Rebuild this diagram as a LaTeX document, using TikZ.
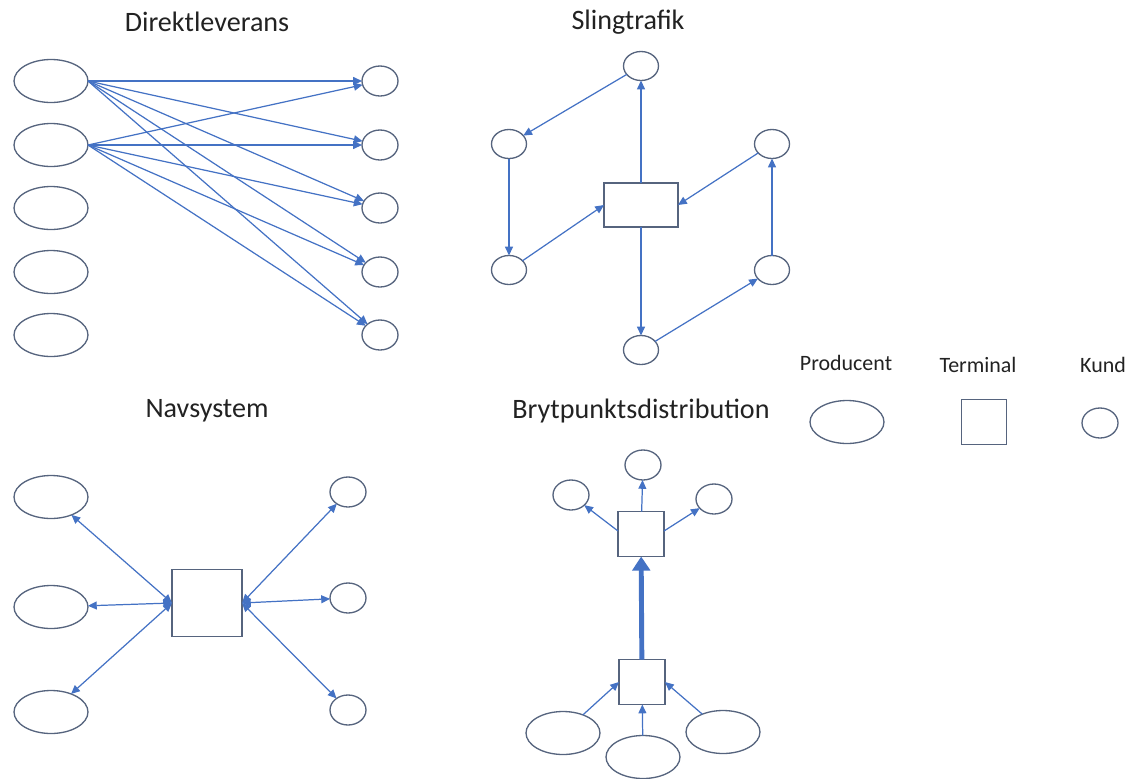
\documentclass[tikz,border=0pt]{standalone}
\usepackage{fontspec}
\setmainfont{Carlito}
\usetikzlibrary{shapes.geometric,arrows.meta}
\definecolor{nodeline}{HTML}{56647E}
\definecolor{arrowblue}{HTML}{4472C4}
\definecolor{textgray}{HTML}{222222}
\begin{document}
\begin{tikzpicture}[x=0.02cm, y=-0.02cm,
    every node/.style={inner sep=0pt, outer sep=0pt, text=textgray},
    prod/.style={ellipse, draw=nodeline, line width=0.75pt, minimum width=1.48cm, minimum height=0.86cm},
    kund/.style={ellipse, draw=nodeline, line width=0.75pt, minimum width=0.72cm, minimum height=0.6cm},
    term/.style={rectangle, draw=nodeline, line width=0.75pt},
    title/.style={font=\fontsize{16}{18}\selectfont},
    legend/.style={font=\fontsize{12.5}{14}\selectfont},
    flow/.style={draw=arrowblue, line width=0.7pt, -{Triangle[length=5pt,width=4.5pt]}},
    twoway/.style={draw=arrowblue, line width=0.7pt, {Triangle[length=5pt,width=4.5pt]}-{Triangle[length=5pt,width=4.5pt]}}]
    \useasboundingbox (0,0) rectangle (1133,778);

    % Titles
    \node[title] (tDirekt) at (207,22) {Direktleverans};
    \node[title] (tSling) at (628,22) {Slingtrafik};
    \node[title] (tNav) at (207,411) {Navsystem};
    \node[title] (tBryt) at (641,411) {Brytpunktsdistribution};

    % Direktleverans
    \foreach \i/\y in {1/81,2/145,3/208,4/272,5/335} {
        \node[prod] (DP\i) at (51,\y) {};
        \node[kund] (DK\i) at (380,\y) {};
    }
    \foreach \p in {1,2}
        \foreach \k in {1,...,5}
            \draw[flow] (DP\p.east) -- (DK\k);

    % Slingtrafik
    \node[term, minimum width=1.48cm, minimum height=0.88cm] (ST) at (641,205) {};
    \node[kund, minimum width=0.7cm, minimum height=0.58cm] (S1) at (641,66) {};
    \node[kund, minimum width=0.7cm, minimum height=0.58cm] (S2) at (509,144) {};
    \node[kund, minimum width=0.7cm, minimum height=0.58cm] (S3) at (509,270) {};
    \node[kund, minimum width=0.7cm, minimum height=0.58cm] (S4) at (641,350) {};
    \node[kund, minimum width=0.7cm, minimum height=0.58cm] (S5) at (772,270) {};
    \node[kund, minimum width=0.7cm, minimum height=0.58cm] (S6) at (772,144) {};
    \draw[flow] (ST) -- (S1);
    \draw[flow] (S1) -- (S2);
    \draw[flow] (S2) -- (S3);
    \draw[flow] (S3) -- (ST.west);
    \draw[flow] (ST) -- (S4);
    \draw[flow] (S4) -- (S5);
    \draw[flow] (S5) -- (S6);
    \draw[flow] (S6) -- (ST.east);

    % Navsystem
    \node[term, minimum width=1.4cm, minimum height=1.34cm] (NT) at (207,603) {};
    \foreach \i/\y in {1/497,2/607,3/712}
        \node[prod] (NP\i) at (51,\y) {};
    \foreach \i/\y in {1/492,2/598,3/710}
        \node[kund] (NK\i) at (348,\y) {};
    \foreach \i in {1,2,3} {
        \draw[twoway] (NT.west) -- (NP\i);
        \draw[twoway] (NT.east) -- (NK\i);
    }

    % Brytpunktsdistribution
    \node[term, minimum width=0.92cm, minimum height=0.9cm] (BU) at (641,534) {};
    \node[term, minimum width=0.92cm, minimum height=0.9cm] (BL) at (642,682) {};
    \node[kund] (BK1) at (571,495) {};
    \node[kund] (BK2) at (643,465) {};
    \node[kund] (BK3) at (714,499) {};
    \node[prod] (BP1) at (563,733) {};
    \node[prod] (BP2) at (643,757) {};
    \node[prod] (BP3) at (723,732) {};
    \draw[flow] ([yshift=0.06cm]BU.west) -- (BK1);
    \draw[flow] (BU) -- (BK2);
    \draw[flow] ([yshift=0.06cm]BU.east) -- (BK3);
    \draw[flow] (BP1) -- (BL.west);
    \draw[flow] (BP2) -- (BL);
    \draw[flow] (BP3) -- (BL.east);
    \draw[draw=arrowblue, line width=2.8pt, -{Triangle[length=8pt,width=10pt]}] (BL) -- (BU);

    % Legend
    \node[legend] (lProd) at (846,363) {Producent};
    \node[legend] (lTerm) at (978,365) {Terminal};
    \node[legend] (lKund) at (1103,365) {Kund};
    \node[prod] (LP) at (847,422) {};
    \node[term, minimum width=0.9cm, minimum height=0.9cm] (LT) at (984,422) {};
    \node[kund] (LK) at (1100,423) {};
\end{tikzpicture}
\end{document}
